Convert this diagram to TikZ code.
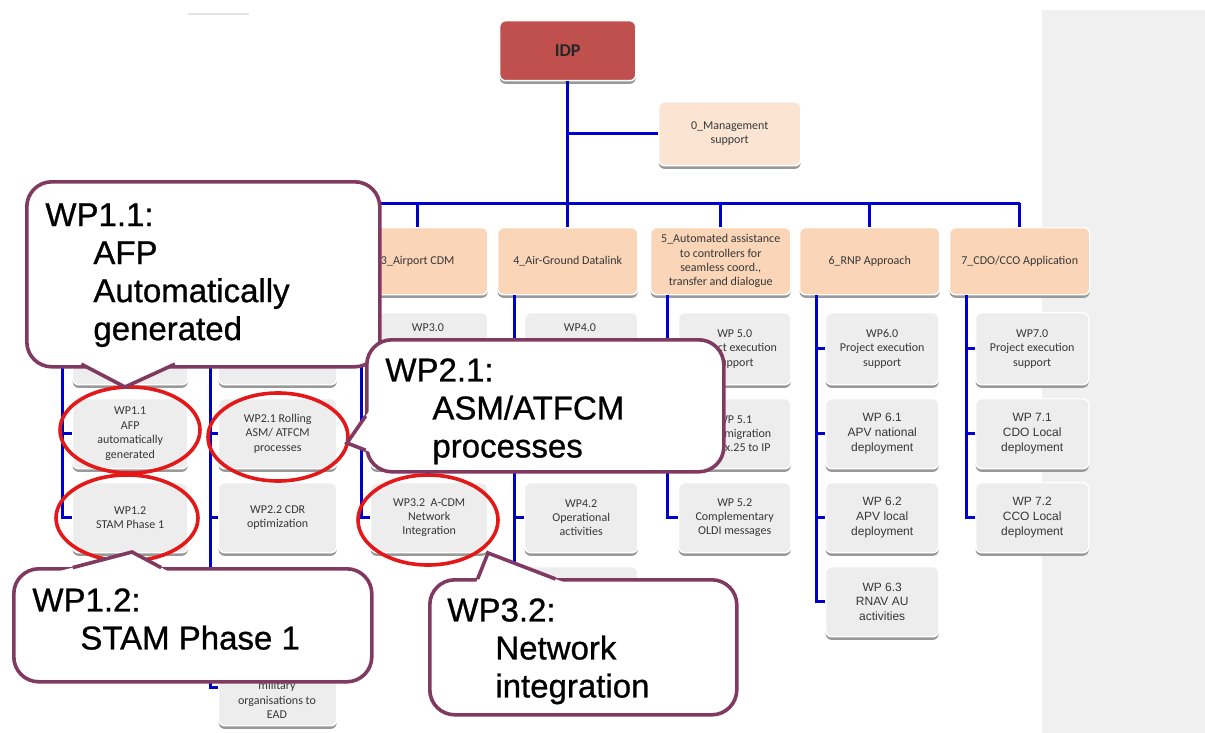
\documentclass[tikz,border=0pt]{standalone}
\usepackage{fontspec}
\setmainfont{Liberation Sans}
\newfontfamily\calfont{Carlito}
\newfontfamily\callfont[FakeBold=0.8]{Liberation Sans}
\usetikzlibrary{shapes.geometric,shadows,calc}
\definecolor{blueline}{RGB}{0,0,204}
\definecolor{idpred}{RGB}{192,80,77}
\definecolor{peach}{RGB}{250,213,183}
\definecolor{peachlight}{RGB}{251,229,210}
\definecolor{boxgray}{RGB}{237,237,237}
\definecolor{panelgray}{RGB}{240,240,240}
\definecolor{plum}{RGB}{128,58,98}
\definecolor{ringred}{RGB}{228,24,24}
\definecolor{smalltext}{RGB}{55,55,55}
\newcommand\bx[7]{\node[#1, minimum width=#5*0.5pt, minimum height=#6*0.5pt] (#2) at (#3,#4) {#7};}
\newcommand\pointer[3]{%
  \fill[white] ($(#2)!1.25!(#1)$) -- (#2) -- ($(#2)!1.25!(#3)$) -- cycle;
  \draw[cline] ($(#2)!1.04!(#1)$) -- (#2) -- ($(#2)!1.04!(#3)$);}
\begin{document}
\begin{tikzpicture}[x=0.5pt,y=-0.5pt,
  base/.style={general shadow={fill=black!40, shadow yshift=-1.6pt}, draw=white, line width=0.7pt,
    rounded corners=3pt, anchor=north west, inner sep=1pt, align=center, text=smalltext,
    font=\calfont\fontsize{6}{7.2}\selectfont},
  hdr/.style={base, fill=peach},
  wp/.style={base, fill=boxgray},
  wpa/.style={wp, font=\fontsize{6}{7.4}\selectfont},
  smalltxt/.style={font=\calfont\fontsize{6}{7.4}\selectfont, text=smalltext, align=center, inner sep=0pt},
  conn/.style={draw=blueline, line width=1.5pt},
  ring/.style={draw=ringred, line width=1.8pt, ellipse, inner sep=0pt},
  callbox/.style={draw=plum, fill=white, line width=1.8pt, rounded corners=12.5pt, anchor=north west, inner sep=0pt},
  cline/.style={draw=plum, line width=1.8pt, line join=miter},
  calltext/.style={anchor=north west, inner sep=0pt, align=left, text=black, font=\callfont\fontsize{16.5}{19}\selectfont},
]
\useasboundingbox (0,0) rectangle (1205,733);
\fill[panelgray] (1042,10) rectangle (1205,733);
\draw[black!10, line width=1pt] (188,14) -- (249,14);

% top
\node[base, fill=idpred, text=black!85, font=\calfont\bfseries\fontsize{9}{10}\selectfont,
  minimum width=68pt, minimum height=30pt] (idp) at (499,20) {IDP};
\bx{hdr, fill=peachlight}{mgmt}{658}{101}{142}{64}{0\_Management\\support}

% headers
\bx{hdr}{h1}{47}{227}{140}{67}{}
\bx{hdr}{h2}{197}{227}{140}{67}{}
\bx{hdr}{h3}{347}{227}{140}{67}{3\_Airport CDM}
\bx{hdr}{h4}{497}{227}{140}{67}{4\_Air-Ground Datalink}
\bx{hdr}{h5}{650}{227}{140}{67}{5\_Automated assistance\\to controllers for\\seamless coord.,\\transfer and dialogue}
\bx{hdr}{h6}{799}{227}{140}{67}{6\_RNP Approach}
\bx{hdr}{h7}{949}{227}{140}{67}{7\_CDO/CCO Application}

% column 1
\bx{wp}{wp10}{72}{312}{115}{72}{}
\bx{wp}{wp11}{72}{398}{115}{70}{WP1.1\\AFP\\automatically\\generated}
\bx{wp}{wp12}{72}{482}{115}{70}{WP1.2\\STAM Phase 1}
% column 2
\bx{wp}{wp20}{218}{312}{118}{72}{}
\bx{wp}{wp21}{218}{398}{118}{70}{WP2.1 Rolling\\ASM/ ATFCM\\processes}
\bx{wp}{wp22}{218}{482}{118}{70}{WP2.2 CDR\\optimization}
\bx{wp}{wp23}{218}{572}{118}{66}{}
\bx{wp}{wp24}{218}{648}{118}{77}{}
\node[smalltxt] (wp24t) at (277,700) {military\\organisations to\\EAD};
% column 3
\bx{wp}{wp30}{370}{312}{117}{72}{}
\node[smalltxt] (wp30t) at (428,328) {WP3.0};
\bx{wp}{wp31}{370}{398}{117}{70}{}
\bx{wp}{wp32}{370}{482}{117}{70}{WP3.2~~A-CDM\\Network\\Integration}
% column 4
\bx{wp}{wp40}{524}{312}{113}{72}{}
\node[smalltxt] (wp40t) at (580,328) {WP4.0};
\bx{wp}{wp41}{524}{398}{113}{70}{}
\bx{wp}{wp42}{524}{482}{113}{70}{WP4.2\\Operational\\activities}
\bx{wp}{wp43}{524}{566}{113}{70}{}
% column 5
\bx{wp}{wp50}{678}{312}{112}{72}{WP 5.0\\Project execution\\support}
\bx{wp}{wp51}{678}{398}{112}{70}{WP 5.1\\OLDI migration\\from x.25 to IP}
\bx{wp}{wp52}{678}{482}{112}{70}{WP 5.2\\Complementary\\OLDI messages}
% column 6
\bx{wp}{wp60}{825}{312}{113}{72}{WP6.0\\Project execution\\support}
\bx{wpa}{wp61}{825}{398}{113}{70}{WP 6.1\\APV national\\deployment}
\bx{wpa}{wp62}{825}{482}{113}{70}{WP 6.2\\APV local\\deployment}
\bx{wpa}{wp63}{825}{566}{113}{70}{WP 6.3\\RNAV AU\\activities}
% column 7
\bx{wp}{wp70}{975}{312}{113}{72}{WP7.0\\Project execution\\support}
\bx{wpa}{wp71}{975}{398}{113}{70}{WP 7.1\\CDO Local\\deployment}
\bx{wpa}{wp72}{975}{482}{113}{70}{WP 7.2\\CCO Local\\deployment}

% connectors
\coordinate (bus) at (0,203);
\draw[conn] (idp.south) -- (idp.south |- h4.north);
\draw[conn] (idp.south |- mgmt.west) -- (mgmt.west);
\draw[conn] (h1.north |- bus) -- (h7.north |- bus);
\foreach \h in {h1,h2,h3,h5,h6,h7} \draw[conn] (\h.north |- bus) -- (\h.north);
\coordinate (v1) at (62,0);
\coordinate (v2) at (210,0);
\coordinate (v3) at (361,0);
\coordinate (v4) at (514,0);
\coordinate (v5) at (667,0);
\coordinate (v6) at (816,0);
\coordinate (v7) at (966,0);
\draw[conn] (v1 |- h1.south) -- (v1 |- wp12.west) -- (wp12.west);
\draw[conn] (v2 |- h2.south) -- (v2 |- wp24.west) -- (wp24.west);
\draw[conn] (v3 |- h3.south) -- (v3 |- wp32.west) -- (wp32.west);
\draw[conn] (v4 |- h4.south) -- (v4 |- wp43.west) -- (wp43.west);
\draw[conn] (v5 |- h5.south) -- (v5 |- wp52.west) -- (wp52.west);
\draw[conn] (v6 |- h6.south) -- (v6 |- wp63.west) -- (wp63.west);
\draw[conn] (v7 |- h7.south) -- (v7 |- wp72.west) -- (wp72.west);
\foreach \v/\b in {v1/wp10,v1/wp11,v2/wp20,v2/wp21,v2/wp22,v2/wp23,v3/wp30,v3/wp31,
  v4/wp40,v4/wp41,v4/wp42,v5/wp50,v5/wp51,v6/wp60,v6/wp61,v6/wp62,v7/wp70,v7/wp71}
  \draw[conn] (\v |- \b.west) -- (\b.west);

% red rings
\node[ring, minimum width=70pt, minimum height=43pt] (e11) at (130,430) {};
\node[ring, minimum width=70pt, minimum height=44pt] (e21) at (278,437) {};
\node[ring, minimum width=71pt, minimum height=43pt] (e12) at (127,518) {};
\node[ring, minimum width=70pt, minimum height=45pt] (e32) at (428,520) {};

% callout 1
\node[callbox, minimum width=176.5pt, minimum height=92.5pt] (c1) at (25,180) {};
\coordinate (c1a) at (83,365); \coordinate (c1t) at (125,387); \coordinate (c1b) at (173,365);
\pointer{c1a}{c1t}{c1b}
\node[calltext] (t1) at (45,203) {WP1.1:\\\hspace*{24pt}AFP\\\hspace*{24pt}Automatically\\\hspace*{24pt}generated};
% callout 2
\node[callbox, minimum width=178.5pt, minimum height=66pt] (c2) at (365,338) {};
\coordinate (c2a) at (365,417); \coordinate (c2t) at (347,443); \coordinate (c2b) at (365,450);
\pointer{c2a}{c2t}{c2b}
\node[calltext] (t2) at (385,358) {WP2.1:\\\hspace*{23.5pt}ASM/ATFCM\\\hspace*{23.5pt}processes};
% callout 3
\node[callbox, minimum width=179pt, minimum height=56.5pt] (c3) at (12,567) {};
\coordinate (c3a) at (75,567); \coordinate (c3t) at (132,552); \coordinate (c3b) at (160,567);
\pointer{c3a}{c3t}{c3b}
\node[calltext] (t3) at (32,588) {WP1.2:\\\hspace*{24pt}STAM Phase 1};
% callout 4
\node[callbox, minimum width=153.5pt, minimum height=67.5pt] (c4) at (428,578) {};
\coordinate (c4a) at (478,578); \coordinate (c4t) at (488,553); \coordinate (c4b) at (553,578);
\pointer{c4a}{c4t}{c4b}
\node[calltext] (t4) at (447,598) {WP3.2:\\\hspace*{24pt}Network\\\hspace*{24pt}integration};
\end{tikzpicture}
\end{document}
